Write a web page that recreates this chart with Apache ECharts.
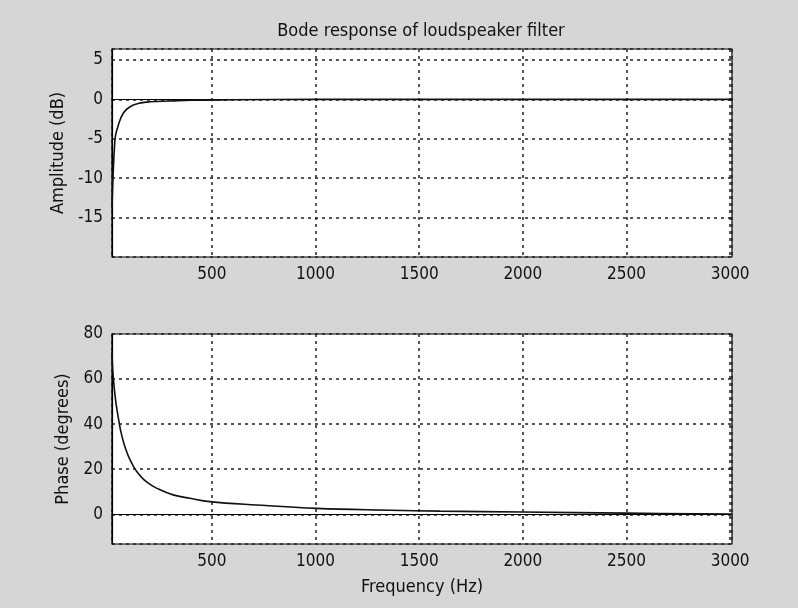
<!DOCTYPE html>
<html>
<head>
<meta charset="utf-8">
<script src="https://cdn.jsdelivr.net/npm/echarts@6/dist/echarts.min.js"></script>
<style>
  html, body { margin: 0; padding: 0; background: #d6d6d6; }
  #chart { width: 798px; height: 608px; }
</style>
</head>
<body>
<div id="chart"></div>
<script>
// frequency (Hz) / amplitude (dB)
const ampFreq = [18, 22, 25, 30, 35, 48, 72, 105, 153, 201, 300, 400, 600, 1000, 1500, 2000, 2500, 3009];
const ampDb = [-13.8, -10.5, -8.5, -6.0, -4.6, -3.3, -1.75, -0.93, -0.47, -0.3, -0.2, -0.1, -0.05, 0, 0, 0, 0, 0];

// frequency (Hz) / phase (degrees)
const phaseFreq = [18, 21, 25, 30, 35, 40, 53, 60, 72, 84, 96, 120, 140, 169, 200, 233, 313, 394, 490, 715, 1005, 1358, 1600, 2000, 2500, 3009];
const phaseDeg = [72, 65, 60, 55, 51, 47.5, 40.5, 37, 32.5, 29, 26, 21.5, 18.6, 15.6, 13.4, 11.6, 8.6, 7.1, 5.6, 4.1, 2.6, 1.8, 1.4, 1.0, 0.5, 0.1];

const font = '"Liberation Sans Narrow", "Arial Narrow", "DejaVu Sans Condensed", sans-serif';

const zip = (xs, ys) => xs.map((x, i) => [x, ys[i]]);
const plain = (v) => String(v);

const gridLine = {
    show: true,
    lineStyle: { color: '#222', width: 1.5, type: [3, 4] }
};

const xAxisBase = (idx) => ({
    type: 'value',
    gridIndex: idx,
    min: 18,
    max: 3009,
    splitNumber: 6,
    minInterval: 500,
    maxInterval: 500,
    axisLine: { show: true, lineStyle: { color: '#000', width: 1.2 } },
    axisTick: { show: false },
    axisLabel: {
        showMinLabel: false,
        showMaxLabel: false,
        formatter: plain,
        margin: 9,
        color: '#111',
        fontFamily: font,
        fontSize: 17
    },
    splitLine: gridLine
});

const option = {
    animation: false,
    backgroundColor: '#d6d6d6',
    title: {
        text: 'Bode response of loudspeaker filter',
        left: 416,
        textAlign: 'center',
        top: 17,
        textStyle: { fontFamily: font, fontSize: 18, fontWeight: 'normal', color: '#111' }
    },
    grid: [
        { left: 112, right: 66, top: 49, height: 208, show: true, backgroundColor: '#fff', borderColor: '#000', borderWidth: 1.2 },
        { left: 112, right: 66, top: 334, height: 210, show: true, backgroundColor: '#fff', borderColor: '#000', borderWidth: 1.2 }
    ],
    xAxis: [
        xAxisBase(0),
        Object.assign(xAxisBase(1), {
            name: 'Frequency (Hz)',
            nameLocation: 'middle',
            nameGap: 34,
            nameTextStyle: { fontFamily: font, fontSize: 18, color: '#111' }
        })
    ],
    yAxis: [
        {
            type: 'value',
            gridIndex: 0,
            min: -20,
            max: 6.4,
            interval: 5,
            name: 'Amplitude (dB)',
            nameLocation: 'middle',
            nameGap: 38,
            nameTextStyle: { fontFamily: font, fontSize: 18, color: '#111' },
            axisLine: { show: true, lineStyle: { color: '#000', width: 1.2 } },
            axisTick: { show: false },
            axisLabel: { showMinLabel: false, showMaxLabel: false, margin: 9, color: '#111', fontFamily: font, fontSize: 17 },
            splitLine: gridLine
        },
        {
            type: 'value',
            gridIndex: 1,
            min: -13.2,
            max: 80,
            splitNumber: 5,
            minInterval: 20,
            maxInterval: 20,
            name: 'Phase (degrees)',
            nameLocation: 'middle',
            nameGap: 38,
            nameTextStyle: { fontFamily: font, fontSize: 18, color: '#111' },
            axisLine: { show: true, lineStyle: { color: '#000', width: 1.2 } },
            axisTick: { show: false },
            axisLabel: { showMinLabel: false, margin: 9, color: '#111', fontFamily: font, fontSize: 17 },
            splitLine: gridLine
        }
    ],
    series: [
        {
            type: 'line',
            xAxisIndex: 0,
            yAxisIndex: 0,
            data: zip(ampFreq, ampDb),
            showSymbol: false,
            smooth: 0.4,
            lineStyle: { color: '#111', width: 1.6 }
        },
        {
            type: 'line',
            xAxisIndex: 1,
            yAxisIndex: 1,
            data: zip(phaseFreq, phaseDeg),
            showSymbol: false,
            smooth: 0.4,
            lineStyle: { color: '#111', width: 1.6 }
        }
    ]
};

const myChart = echarts.init(document.getElementById('chart'));
myChart.setOption(option);
</script>
</body>
</html>
